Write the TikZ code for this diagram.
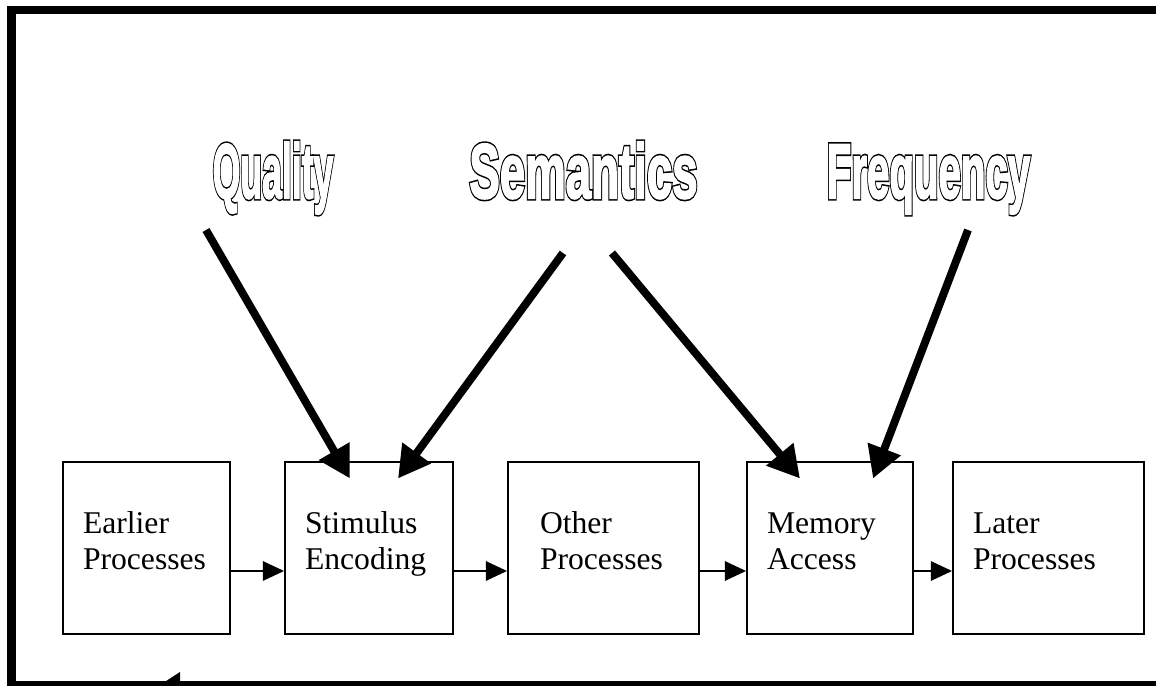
\documentclass[tikz,border=0pt]{standalone}
\usepackage{fontspec}
\setmainfont{Liberation Serif}
\newfontfamily\labelfont{Liberation Sans}
\usetikzlibrary{arrows.meta, positioning}
% white letters with a double black outline
\newcommand{\outlined}[1]{\rlap{\special{pdf:literal direct 1 Tr 3 w}#1}\special{pdf:literal direct 2 Tr 1.2 w 1 g 1 G}#1\special{pdf:literal direct 0 Tr 0 g 0 G}}

\begin{document}
\begin{tikzpicture}[
    procbox/.style={rectangle, draw=black, line width=1.1pt, minimum height=3.44cm, inner xsep=0.4cm, inner ysep=0pt, align=left, font=\fontsize{18}{20.5}\selectfont, execute at end node={\rule[-0.28cm]{0pt}{0pt}}},
    factor/.style={anchor=base, inner sep=0pt, font=\labelfont\bfseries\fontsize{44}{44}\selectfont},
    bigarrow/.style={-{Triangle[length=18pt, width=19pt]}, line width=4.5pt},
    smallarrow/.style={-{Triangle[length=12pt, width=11pt]}, line width=1pt}
]
    \useasboundingbox (0,0) rectangle (23.12,13.72);

    % Outer frame
    \draw[line width=0.16cm, miter limit=10] (23.5,0.02) -- (0.23,0.02) -- (0.23,13.52) -- (23.5,13.52);
    \fill (3.2,0.02) -- (3.6,0.28) -- (3.6,-0.24) -- cycle;

    % Processing stages
    \node[procbox, text width=2.54cm] (earlier) at (2.93,2.76) {Earlier\\Processes};
    \node[procbox, text width=2.56cm] (stimulus) at (7.38,2.76) {Stimulus\\Encoding};
    \node[procbox, text width=2.54cm, inner xsep=0.64cm] (other) at (12.07,2.76) {Other\\Processes};
    \node[procbox, text width=2.52cm] (memory) at (16.60,2.76) {Memory\\Access};
    \node[procbox, text width=3.02cm] (later) at (20.97,2.76) {Later\\Processes};

    \draw[smallarrow] ([yshift=-0.46cm]earlier.east) -- ([yshift=-0.46cm]stimulus.west);
    \draw[smallarrow] ([yshift=-0.46cm]stimulus.east) -- ([yshift=-0.46cm]other.west);
    \draw[smallarrow] ([yshift=-0.46cm]other.east) -- ([yshift=-0.46cm]memory.west);
    \draw[smallarrow] ([yshift=-0.46cm]memory.east) -- ([yshift=-0.46cm]later.west);

    % Factors
    \node[factor] (quality) at (5.46,9.76) {\scalebox{0.46}[1]{\outlined{Quality}}};
    \node[factor] (semantics) at (11.67,9.76) {\scalebox{0.59}[1]{\outlined{Semantics}}};
    \node[factor] (frequency) at (18.57,9.76) {\scalebox{0.52}[1]{\outlined{Frequency}}};

    \coordinate (qfrom) at (4.12,9.12);
    \coordinate (sfromleft) at (11.26,8.66);
    \coordinate (sfromright) at (12.24,8.66);
    \coordinate (ffrom) at (19.36,9.12);

    \draw[bigarrow] (qfrom) -- ([xshift=-0.38cm, yshift=-0.35cm]stimulus.north);
    \draw[bigarrow] (sfromleft) -- ([xshift=0.58cm, yshift=-0.35cm]stimulus.north);
    \draw[bigarrow] (sfromright) -- ([xshift=-0.6cm, yshift=-0.35cm]memory.north);
    \draw[bigarrow] (ffrom) -- ([xshift=0.86cm, yshift=-0.35cm]memory.north);
\end{tikzpicture}
\end{document}
